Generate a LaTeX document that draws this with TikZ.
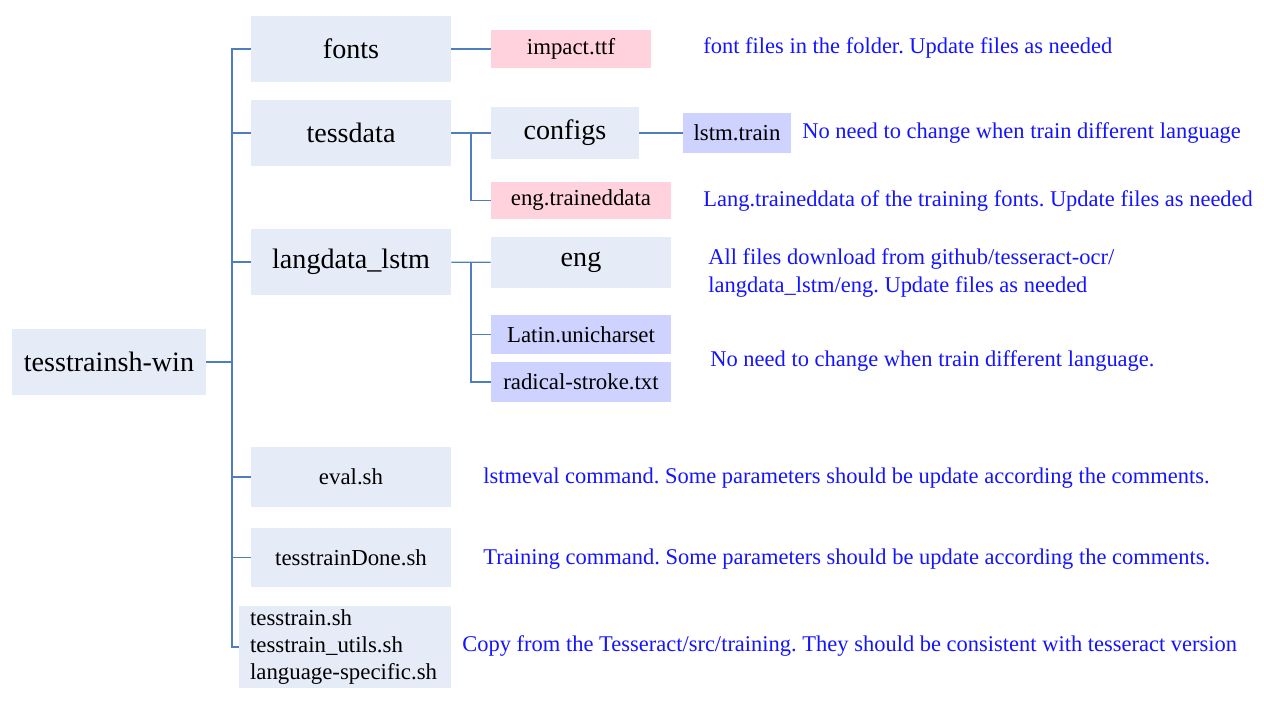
\documentclass[tikz,border=0pt]{standalone}
\usepackage{fontspec}
\setmainfont{Liberation Serif}
\newfontfamily\tnr{Liberation Serif}
\usepackage{tikz}
\usetikzlibrary{positioning,calc}
\definecolor{boxfill}{RGB}{230,236,247}
\definecolor{pinkfill}{RGB}{255,210,221}
\definecolor{lilacfill}{RGB}{206,210,255}
\definecolor{linkcol}{RGB}{79,125,189}
\definecolor{notecol}{RGB}{20,20,255}
\frenchspacing

\begin{document}
\begin{tikzpicture}[x=0.02cm, y=-0.02cm,
  dirbox/.style={fill=boxfill, inner sep=0pt, minimum width=4cm,
    minimum height=1.32cm, font=\tnr\fontsize{16}{19}\selectfont},
  filebox/.style={fill=boxfill, inner sep=0pt, minimum width=4cm,
    minimum height=1.2cm, font=\tnr\fontsize{13}{15}\selectfont},
  leaf/.style={inner sep=0pt, minimum width=3.6cm, minimum height=0.78cm,
    font=\tnr\fontsize{13}{15}\selectfont},
  link/.style={draw=linkcol, line width=0.7pt},
  note/.style={anchor=west, inner sep=0pt, text=notecol, align=left,
    font=\tnr\fontsize{12.8}{15.4}\selectfont},
]
  \useasboundingbox (0,0) rectangle (1264,702);

  % left column
  \node[dirbox, minimum width=3.88cm] (root) at (109,362) {tesstrainsh-win};
  \node[dirbox] (fonts) at (351,49) {fonts};
  \node[dirbox] (tessdata) at (351,133) {tessdata};
  \node[dirbox] (langdata) at (351,262) {langdata\_lstm};
  \node[filebox] (eval) at (351,477) {eval.sh};
  \node[filebox] (done) at (351,557.5) {tesstrainDone.sh};
  \node[filebox, minimum width=4.24cm, minimum height=1.64cm, align=left,
    text width=3.8cm, font=\tnr\fontsize{13}{15.2}\selectfont] (misc)
    at (345,647) {tesstrain.sh\\tesstrain\_utils.sh\\language-specific.sh};

  % second column
  \node[leaf, fill=pinkfill, minimum width=3.2cm, minimum height=0.76cm]
    (impact) at (571,49) {impact.ttf};
  \node[leaf, fill=boxfill, minimum width=2.96cm, minimum height=1.04cm,
    font=\tnr\fontsize{16}{19}\selectfont] (configs) at (565,133) {configs};
  \node[leaf, fill=lilacfill, minimum width=2.16cm, minimum height=0.8cm]
    (lstmtrain) at (737,133) {lstm.train};
  \node[leaf, fill=pinkfill, minimum height=0.74cm] (engtd) at (581,200.5)
    {eng.traineddata};
  \node[leaf, fill=boxfill, minimum height=1.02cm,
    font=\tnr\fontsize{16}{19}\selectfont] (eng) at (581,262.5) {eng};
  \node[leaf, fill=lilacfill] (latin) at (581,334.5) {Latin.unicharset};
  \node[leaf, fill=lilacfill, minimum height=0.8cm] (radical) at (581,382)
    {radical-stroke.txt};

  % connectors
  \coordinate (trunk) at (232,362);
  \coordinate (tsplit) at (471,133);
  \coordinate (lsplit) at (471,262);
  \draw[link] (root) -- (trunk);
  \foreach \n in {fonts,tessdata,langdata,eval,done,misc}
    \draw[link] (trunk) |- (\n.west);
  \draw[link] (fonts) -- (impact);
  \draw[link] (tessdata) -- (configs);
  \draw[link] (configs) -- (lstmtrain);
  \draw[link] (tsplit) |- (engtd.west);
  \draw[link] (langdata) -- (eng);
  \foreach \n in {latin,radical}
    \draw[link] (lsplit) |- (\n.west);

  % notes
  \node[note] (n1) at (703,48) {font files in the folder. Update files as needed};
  \node[note] (n2) at (802,133) {No need to change when train different language};
  \node[note] (n3) at (703,201) {Lang.traineddata of the training fonts. Update files as needed};
  \node[note] (n4) at (708,273)
    {All files download from github/tesseract-ocr/\\langdata\_lstm/eng. Update files as needed};
  \node[note] (n5) at (710,361) {No need to change when train different language.};
  \node[note] (n6) at (483,478) {lstmeval command. Some parameters should be update according the comments.};
  \node[note] (n7) at (483,559) {Training command. Some parameters should be update according the comments.};
  \node[note] (n8) at (462,646) {Copy from the Tesseract/src/training. They should be consistent with tesseract version};
\end{tikzpicture}
\end{document}
